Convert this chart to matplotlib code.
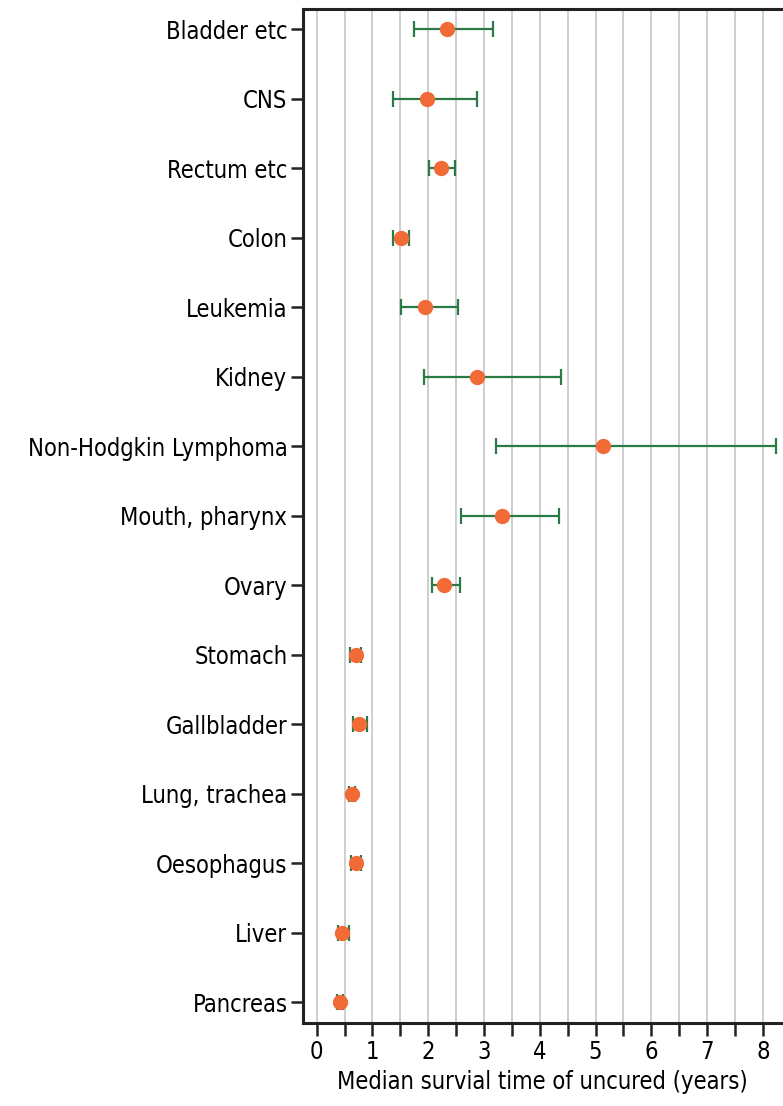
import numpy as np
import matplotlib.pyplot as plt

# data
cancers = ['Bladder etc', 'CNS', 'Rectum etc', 'Colon', 'Leukemia', 'Kidney',
           'Non-Hodgkin Lymphoma', 'Mouth, pharynx', 'Ovary', 'Stomach',
           'Gallbladder', 'Lung, trachea', 'Oesophagus', 'Liver', 'Pancreas']
median = [2.34, 1.97, 2.23, 1.51, 1.94, 2.87, 5.14, 3.33, 2.28, 0.70,
          0.76, 0.63, 0.70, 0.45, 0.42]
lower = [1.74, 1.37, 2.01, 1.37, 1.51, 1.92, 3.21, 2.58, 2.07, 0.60,
         0.66, 0.58, 0.62, 0.38, 0.37]
upper = [3.17, 2.88, 2.48, 1.65, 2.53, 4.38, 8.23, 4.34, 2.57, 0.79,
         0.91, 0.68, 0.79, 0.58, 0.47]

orange = '#f26a36'
green = '#2a7a46'
font = dict(family='DejaVu Sans', stretch='condensed')

median = np.array(median)
yerr_lo = median - np.array(lower)
yerr_hi = np.array(upper) - median
ypos = np.arange(len(cancers))

fig = plt.figure(figsize=(7.83, 11.06), dpi=100)
ax = fig.add_axes([0.3866, 0.075, 1 - 0.3866, 0.9169])

for xv in np.arange(0, 8.51, 0.5):
    ax.axvline(xv, color='#cccccc', lw=1.3, zorder=0)

ax.errorbar(median, ypos, xerr=[yerr_lo, yerr_hi], fmt='none', ecolor=green,
            elinewidth=1.6, capsize=6, capthick=1.6, zorder=2)
ax.plot(median, ypos, 'o', color=orange, markersize=10, zorder=3)

ax.set_xlim(-0.25, 8.36)
ax.set_ylim(14.3, -0.29)
ax.set_yticks(ypos)
ax.set_yticklabels(cancers, fontsize=17, **font)
ax.set_xticks(np.arange(0, 9, 1))
ax.set_xticklabels([str(i) for i in range(9)], fontsize=17, **font)
ax.set_xticks(np.arange(0.5, 8.5, 1), minor=True)
ax.tick_params(axis='both', which='both', length=9, width=1.8, color='#222222',
               direction='out')
ax.tick_params(axis='y', pad=2)
ax.set_xlabel('Median survial time of uncured (years)', fontsize=17,
              labelpad=4, **font)

for s in ['left', 'bottom', 'top']:
    ax.spines[s].set_linewidth(2.2)
    ax.spines[s].set_color('#222222')
ax.spines['right'].set_visible(False)

plt.savefig('out.png', dpi=100)
